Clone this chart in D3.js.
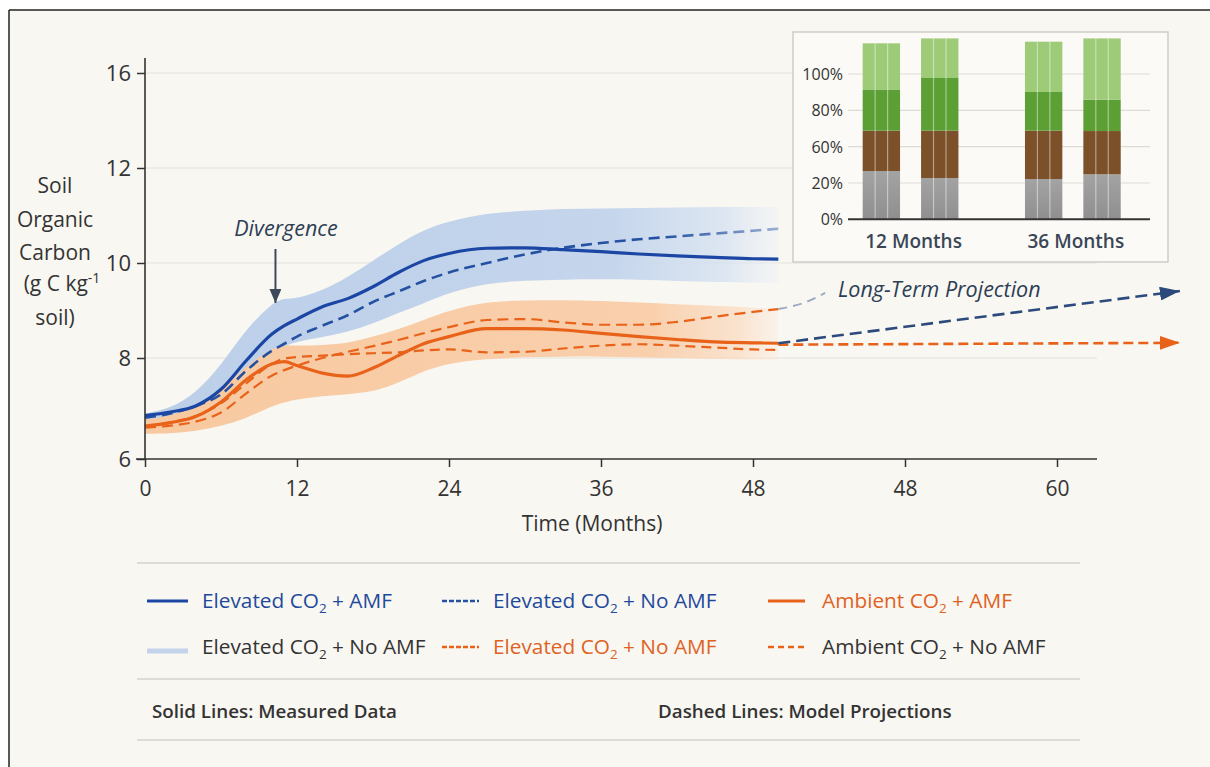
<!DOCTYPE html>
<html>
<head>
<meta charset="utf-8">
<script src="https://cdn.jsdelivr.net/npm/d3@7"></script>
<style>
  html, body { margin: 0; padding: 0; background: #ffffff; }
  svg { display: block; font-family: "Open Sans", "Noto Sans", sans-serif; }
</style>
</head>
<body>
<svg id="chart" width="1210" height="767"></svg>
<script>
// ---------------- DATA ----------------
const months = [0, 2, 4, 6, 8, 10, 11, 12, 14, 16, 18, 20, 22, 24, 27, 30, 33, 36, 39, 42, 45, 48, 50];
const elevAMF        = [6.86, 6.93, 7.05, 7.38, 7.95, 8.50, 8.68, 8.82, 9.08, 9.25, 9.50, 9.80, 10.05, 10.20, 10.31, 10.32, 10.28, 10.24, 10.19, 10.15, 10.12, 10.09, 10.08];
const elevNoAMF      = [6.82, 6.90, 7.05, 7.28, 7.75, 8.15, 8.30, 8.45, 8.68, 8.90, 9.18, 9.40, 9.62, 9.80, 10.00, 10.18, 10.32, 10.42, 10.50, 10.56, 10.62, 10.68, 10.72];
const ambAMF         = [6.65, 6.72, 6.84, 7.13, 7.57, 7.88, 7.93, 7.85, 7.70, 7.64, 7.80, 8.05, 8.30, 8.45, 8.62, 8.62, 8.59, 8.52, 8.45, 8.39, 8.34, 8.32, 8.31];
const elevNoAMFOrg   = [6.62, 6.66, 6.74, 6.92, 7.30, 7.65, 7.76, 7.85, 8.00, 8.13, 8.25, 8.38, 8.52, 8.65, 8.80, 8.82, 8.75, 8.70, 8.70, 8.76, 8.87, 8.97, 9.03];
const ambNoAMF       = [6.64, 6.72, 6.85, 7.10, 7.50, 7.88, 7.99, 8.02, 8.05, 8.08, 8.10, 8.12, 8.16, 8.18, 8.12, 8.13, 8.20, 8.26, 8.29, 8.26, 8.22, 8.18, 8.17];
const elevBandLow    = [6.75, 6.85, 6.95, 7.20, 7.62, 8.10, 8.25, 8.35, 8.44, 8.55, 8.72, 8.95, 9.15, 9.38, 9.58, 9.63, 9.65, 9.66, 9.65, 9.62, 9.60, 9.59, 9.58];
const elevBandHigh   = [6.90, 7.00, 7.30, 7.85, 8.62, 9.15, 9.26, 9.25, 9.42, 9.70, 10.05, 10.40, 10.70, 10.88, 11.05, 11.10, 11.14, 11.15, 11.16, 11.17, 11.18, 11.18, 11.18];
const ambBandLow     = [6.50, 6.50, 6.55, 6.65, 6.80, 7.05, 7.12, 7.18, 7.25, 7.28, 7.33, 7.50, 7.75, 7.90, 7.98, 8.02, 8.03, 8.03, 8.02, 8.00, 7.98, 7.97, 7.96];
const ambBandHigh    = [6.78, 6.85, 7.05, 7.35, 7.85, 8.20, 8.27, 8.26, 8.27, 8.31, 8.45, 8.60, 8.80, 9.00, 9.19, 9.21, 9.22, 9.20, 9.17, 9.13, 9.10, 9.06, 9.04];

const tailMonths = [50, 52, 53.7];
const tailValues = [9.03, 9.16, 9.37];

const projMonths   = [50, 81.7];
const projElev     = [8.31, 9.41];
const projAmbient  = [8.28, 8.32];

const yTickValues = [6, 8, 10, 12, 16];
const xTickMonths = [0, 12, 24, 36, 48, 60, 72];
const xTickLabels = ["0", "12", "24", "36", "48", "48", "60"];

const insetPeriods    = ["12 Months", "36 Months"];
const insetTreatments = ["AMF", "No AMF"];
const insetGray       = [33.2, 25.5, 24.4, 29.6];   // 12-AMF, 12-NoAMF, 36-AMF, 36-NoAMF
const insetBrown      = [35.6, 43.3, 44.4, 39.0];
const insetGreen      = [22.4, 29.0, 21.3, 17.2];
const insetLightGreen = [25.7, 21.8, 27.7, 33.8];
const insetTicks      = [0, 20, 60, 80, 100];

const legendNames = [
  "Elevated CO₂ + AMF", "Elevated CO₂ + No AMF", "Ambient CO₂ + AMF",
  "Elevated CO₂ + No AMF", "Elevated CO₂ + No AMF", "Ambient CO₂ + No AMF"
];

// ---------------- STYLE ----------------
const BLUE = "#1b46a3", BLUE_D = "#2451a2", ORANGE = "#e8621a", NAVY = "#2c4a7c";
const TXT = "#333333", ANNOT = "#2d3e55";
const CREAM = "#f9f7f2";

const svg = d3.select("#chart");
const defs = svg.append("defs");

// background frame
svg.append("rect").attr("x", 9).attr("y", 10).attr("width", 1201).attr("height", 757).attr("fill", CREAM);
svg.append("line").attr("x1", 9).attr("x2", 1210).attr("y1", 10).attr("y2", 10).attr("stroke", "#222").attr("stroke-width", 1.5);
svg.append("line").attr("x1", 9).attr("x2", 9).attr("y1", 10).attr("y2", 767).attr("stroke", "#222").attr("stroke-width", 1.5);

// scales
const x = d3.scaleLinear().domain([0, 72]).range([145, 1057]);
const y = d3.scaleLinear().domain([6, 8, 10, 12, 16]).range([459, 358, 263, 168, 73]);

// gradients
function hGrad(id, stops) {
  const g = defs.append("linearGradient").attr("id", id)
    .attr("gradientUnits", "userSpaceOnUse")
    .attr("x1", x(0)).attr("x2", x(51)).attr("y1", 0).attr("y2", 0);
  stops.forEach(s => g.append("stop").attr("offset", s[0]).attr("stop-color", s[1]).attr("stop-opacity", s[2]));
}
hGrad("blueBand", [[0, "#bccfe9", 1], [0.72, "#c4d5ec", 1], [0.9, "#d6e2f1", 0.8], [1, "#eef2f8", 0.25]]);
hGrad("orangeBand", [[0, "#f8c9a0", 1], [0.78, "#f9cfac", 1], [0.92, "#fadcc2", 0.75], [1, "#fbeadc", 0.2]]);
hGrad("blueDashFade", [[0, BLUE_D, 1], [0.8, BLUE_D, 1], [1, "#a6b8d8", 1]]);

// gridlines
const plot = svg.append("g");
plot.selectAll(".grid").data(yTickValues.filter(d => d > 6)).join("line")
  .attr("x1", x(0)).attr("x2", 1097)
  .attr("y1", d => y(d)).attr("y2", d => y(d))
  .attr("stroke", "#e4e1da").attr("stroke-width", 1);

// bands
const idx = d3.range(months.length);
const band = (lo, hi) => d3.area().curve(d3.curveBasis)
  .x(i => x(months[i])).y0(i => y(lo[i])).y1(i => y(hi[i]));
plot.append("path").attr("d", band(elevBandLow, elevBandHigh)(idx)).attr("fill", "url(#blueBand)");
plot.append("path").attr("d", band(ambBandLow, ambBandHigh)(idx)).attr("fill", "url(#orangeBand)");

// lines
const lineOf = (vals, mx) => d3.line().curve(d3.curveMonotoneX)
  .x(i => x((mx || months)[i])).y(i => y(vals[i]));

plot.append("path").attr("d", lineOf(ambNoAMF)(idx)).attr("fill", "none")
  .attr("stroke", ORANGE).attr("stroke-width", 2.2).attr("stroke-dasharray", "10,6");
plot.append("path").attr("d", lineOf(elevNoAMFOrg)(idx)).attr("fill", "none")
  .attr("stroke", ORANGE).attr("stroke-width", 2.2).attr("stroke-dasharray", "11,6");
plot.append("path").attr("d", lineOf(tailValues, tailMonths)(d3.range(tailMonths.length))).attr("fill", "none")
  .attr("stroke", "#9eabc6").attr("stroke-width", 2).attr("stroke-dasharray", "9,6");
plot.append("path").attr("d", lineOf(ambAMF)(idx)).attr("fill", "none")
  .attr("stroke", ORANGE).attr("stroke-width", 3.2);
plot.append("path").attr("d", lineOf(elevNoAMF)(idx)).attr("fill", "none")
  .attr("stroke", "url(#blueDashFade)").attr("stroke-width", 2.6).attr("stroke-dasharray", "11,6");
plot.append("path").attr("d", lineOf(elevAMF)(idx)).attr("fill", "none")
  .attr("stroke", BLUE).attr("stroke-width", 3.2);

// projection arrows
function arrowMarker(id, color, w, h) {
  defs.append("marker").attr("id", id).attr("viewBox", `0 0 ${w} ${h}`)
    .attr("refX", w).attr("refY", h / 2).attr("markerWidth", w).attr("markerHeight", h)
    .attr("markerUnits", "userSpaceOnUse").attr("orient", "auto")
    .append("path").attr("d", `M0,0 L${w},${h / 2} L0,${h} Z`).attr("fill", color);
}
arrowMarker("arrBlue", NAVY, 20, 14);
arrowMarker("arrOrange", ORANGE, 20, 14);
arrowMarker("arrDiv", "#3e4a5c", 14, 12);
const pIdx = d3.range(projMonths.length);
plot.append("path").attr("d", lineOf(projAmbient, projMonths)(pIdx)).attr("fill", "none")
  .attr("stroke", ORANGE).attr("stroke-width", 2.6).attr("stroke-dasharray", "10,5")
  .attr("marker-end", "url(#arrOrange)");
plot.append("path").attr("d", lineOf(projElev, projMonths)(pIdx)).attr("fill", "none")
  .attr("stroke", NAVY).attr("stroke-width", 2.6).attr("stroke-dasharray", "12,6")
  .attr("marker-end", "url(#arrBlue)");

svg.append("text").attr("x", 838).attr("y", 297)
  .attr("font-size", 21.5).attr("font-style", "italic").attr("fill", ANNOT)
  .text("Long-Term Projection");

// divergence annotation
svg.append("text").attr("x", 286).attr("y", 236).attr("text-anchor", "middle")
  .attr("font-size", 21.5).attr("font-style", "italic").attr("fill", ANNOT).text("Divergence");
svg.append("line").attr("x1", x(10.3)).attr("x2", x(10.3)).attr("y1", 249).attr("y2", 303)
  .attr("stroke", "#3e4a5c").attr("stroke-width", 2).attr("marker-end", "url(#arrDiv)");

// axes
const yAxis = svg.append("g").attr("transform", `translate(${x(0)},0)`)
  .call(d3.axisLeft(y).tickValues(yTickValues).tickFormat(d3.format("d")).tickSize(8).tickPadding(6));
yAxis.select(".domain").remove();
yAxis.selectAll(".tick line").attr("stroke", "#333").attr("stroke-width", 1.5);
yAxis.selectAll(".tick text").attr("font-size", 22).attr("fill", TXT).attr("font-family", "Open Sans");
svg.append("line").attr("x1", x(0)).attr("x2", x(0)).attr("y1", 58).attr("y2", y(6))
  .attr("stroke", "#333").attr("stroke-width", 1.6);

const xAxis = svg.append("g").attr("transform", `translate(0,${y(6)})`)
  .call(d3.axisBottom(x).tickValues(xTickMonths).tickFormat((d, i) => xTickLabels[i]).tickSize(8).tickPadding(14));
xAxis.select(".domain").remove();
xAxis.selectAll(".tick line").attr("stroke", "#333").attr("stroke-width", 1.5);
xAxis.selectAll(".tick text").attr("font-size", 21).attr("fill", TXT).attr("font-family", "Open Sans");
svg.append("line").attr("x1", 136).attr("x2", 1097).attr("y1", y(6)).attr("y2", y(6))
  .attr("stroke", "#333").attr("stroke-width", 1.6);

svg.append("text").attr("x", 592).attr("y", 531).attr("text-anchor", "middle")
  .attr("font-size", 21).attr("fill", TXT).text("Time (Months)");

// y label
const yl = svg.append("text").attr("text-anchor", "middle").attr("font-size", 21).attr("fill", TXT);
yl.append("tspan").attr("x", 55).attr("y", 193).text("Soil");
yl.append("tspan").attr("x", 55).attr("y", 227).text("Organic");
yl.append("tspan").attr("x", 55).attr("y", 260).text("Carbon");
const l4 = yl.append("tspan").attr("x", 62).attr("y", 291);
l4.append("tspan").text("(g C kg");
l4.append("tspan").attr("dy", -8).attr("font-size", 14).text("-1");
yl.append("tspan").attr("x", 55).attr("y", 325).text("soil)");

// ---------------- INSET ----------------
const inset = svg.append("g");
inset.append("rect").attr("x", 793).attr("y", 32).attr("width", 375).attr("height", 230)
  .attr("fill", "#fbfaf6").attr("stroke", "#cfcdc8").attr("stroke-width", 1.5);

const iy = d3.scaleLinear().domain(insetTicks).range([219.3, 183, 146.7, 110.3, 74]);
const ix0 = d3.scaleBand().domain(insetPeriods).range([849.7, 1133.7]).paddingInner(0.41).paddingOuter(0.08);
const ix1 = d3.scaleBand().domain(insetTreatments).range([0, ix0.bandwidth()]).paddingInner(0.36).paddingOuter(0);

inset.selectAll(".igrid").data(insetTicks.slice(1)).join("line")
  .attr("x1", 848).attr("x2", 1150).attr("y1", d => iy(d)).attr("y2", d => iy(d))
  .attr("stroke", "#dedbd4").attr("stroke-width", 1.2);
inset.selectAll(".ilab").data(insetTicks).join("text")
  .attr("x", 843).attr("y", d => iy(d) + 6).attr("text-anchor", "end")
  .attr("font-size", 16).attr("fill", TXT).text(d => d + "%");

const insetRows = [];
insetPeriods.forEach((p, pi) => insetTreatments.forEach((t, ti) => {
  const k = pi * 2 + ti;
  insetRows.push({ period: p, treat: t, gray: insetGray[k], brown: insetBrown[k], green: insetGreen[k], light: insetLightGreen[k] });
}));
const layerKeys = ["gray", "brown", "green", "light"];
const grayGrad = defs.append("linearGradient").attr("id", "grayGrad").attr("x1", 0).attr("x2", 0).attr("y1", 0).attr("y2", 1);
grayGrad.append("stop").attr("offset", 0).attr("stop-color", "#a3a3a3");
grayGrad.append("stop").attr("offset", 1).attr("stop-color", "#8f8f8f");
const layerColors = { gray: "url(#grayGrad)", brown: "#7c5028", green: "#5c9f35", light: "#9dcb78" };
const stacked = d3.stack().keys(layerKeys)(insetRows);
stacked.forEach(layer => {
  inset.selectAll(null).data(layer).join("rect")
    .attr("x", d => ix0(d.data.period) + ix1(d.data.treat))
    .attr("width", ix1.bandwidth())
    .attr("y", d => iy(d[1]))
    .attr("height", d => iy(d[0]) - iy(d[1]))
    .attr("fill", layerColors[layer.key]);
});
// thin light stripes inside bars
insetRows.forEach(r => {
  const bx = ix0(r.period) + ix1(r.treat), bw = ix1.bandwidth();
  const top = iy(r.gray + r.brown + r.green + r.light);
  [1 / 3, 2 / 3].forEach(f => {
    inset.append("line").attr("x1", bx + bw * f).attr("x2", bx + bw * f)
      .attr("y1", top).attr("y2", iy(0)).attr("stroke", "#ffffff").attr("stroke-opacity", 0.45).attr("stroke-width", 1.2);
  });
});
inset.append("line").attr("x1", 848).attr("x2", 1150).attr("y1", iy(0)).attr("y2", iy(0))
  .attr("stroke", "#333").attr("stroke-width", 2);
inset.selectAll(".icat").data(insetPeriods).join("text")
  .attr("x", d => ix0(d) + ix0.bandwidth() / 2 + 3).attr("y", 248).attr("text-anchor", "middle")
  .attr("font-size", 19).attr("font-weight", 600).attr("fill", "#3a4656").text(d => d);

// ---------------- LEGEND ----------------
const dividerYs = [563, 679, 740];
svg.selectAll(".div").data(dividerYs).join("line")
  .attr("x1", 137).attr("x2", 1080).attr("y1", d => d).attr("y2", d => d)
  .attr("stroke", "#d6d3cc").attr("stroke-width", 1.3);

const legStyles = [
  { c: BLUE, w: 3, dash: null, tc: "#1f4a9c" },
  { c: BLUE_D, w: 2.6, dash: "5,2", tc: "#1f4a9c" },
  { c: ORANGE, w: 3, dash: null, tc: "#e0621f" },
  { c: "#c3d3ea", w: 5, dash: null, tc: TXT },
  { c: ORANGE, w: 2.6, dash: "5,2", tc: "#e0621f" },
  { c: ORANGE, w: 2.6, dash: "6,4", tc: TXT }
];
const legCols = [147, 442, 768];
const legTextX = [202, 493, 822];
const legRows = [601, 647];
legendNames.forEach((name, i) => {
  const col = i % 3, row = Math.floor(i / 3), st = legStyles[i];
  const cy = legRows[row];
  const ly = cy + (row === 1 && col === 0 ? 4 : 0);
  svg.append("line").attr("x1", legCols[col]).attr("x2", legCols[col] + (col === 0 ? 41 : 37))
    .attr("y1", ly).attr("y2", ly)
    .attr("stroke", st.c).attr("stroke-width", st.w).attr("stroke-dasharray", st.dash);
  const t = svg.append("text").attr("x", legTextX[col]).attr("y", cy + 7)
    .attr("font-size", 20.8).attr("fill", st.tc);
  const parts = name.split("₂");
  t.append("tspan").text(parts[0]);
  t.append("tspan").attr("dy", 5).attr("font-size", 13.5).text("2");
  t.append("tspan").attr("dy", -5).text(parts[1]);
});

svg.append("text").attr("x", 152).attr("y", 718).attr("font-size", 18.8).attr("font-weight", 600)
  .attr("fill", TXT).text("Solid Lines: Measured Data");
svg.append("text").attr("x", 658).attr("y", 718).attr("font-size", 18.8).attr("font-weight", 600)
  .attr("fill", TXT).text("Dashed Lines: Model Projections");
</script>
</body>
</html>
